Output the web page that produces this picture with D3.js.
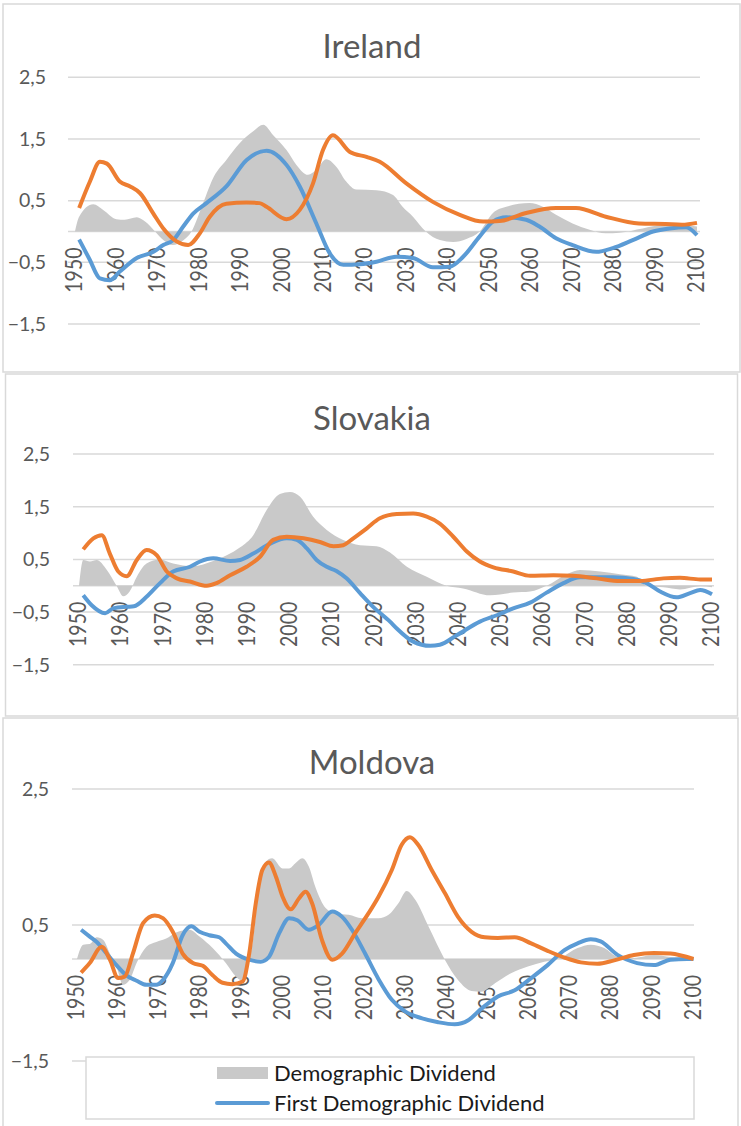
<!DOCTYPE html>
<html lang="en">
<head>
  <meta charset="UTF-8">
  <script src="https://d3js.org/d3.v7.min.js"></script>
  <title>Demographic Dividend</title>
  <style>
    body { margin: 0; background: #fff; }
    svg { display: block; font-family: Lato, "Open Sans", sans-serif; }
  </style>
</head>
<body>
<div id="chart"></div>
<script>

// values, [year, value]
var irelandDemo = [[1950,0],[1951,0.24],[1954.4,0.44],[1956.8,0.35],[1960,0.2],[1962,0.19],[1964.9,0.23],[1966.9,0.16],[1969.3,0],[1971.5,-0.15],[1973.6,-0.22],[1976,-0.15],[1978.1,0],[1980.9,0.46],[1983.5,0.89],[1986.5,1.16],[1989.7,1.43],[1992.9,1.62],[1995.4,1.73],[1997.8,1.56],[2001,1.32],[2003.4,1.08],[2006.2,0.92],[2008.2,1.0],[2010.6,1.17],[2013,1.05],[2015.4,0.81],[2017.8,0.68],[2022.7,0.67],[2026.7,0.59],[2029,0.40],[2031.5,0.24],[2034.6,0],[2038,-0.14],[2041.2,-0.17],[2044.4,-0.12],[2047.6,0],[2050.8,0.30],[2054,0.40],[2059.6,0.46],[2062.8,0.40],[2066,0.27],[2070,0.13],[2074.1,0.03],[2078,-0.03],[2081.3,-0.02],[2086.9,0.05],[2091.8,0.1],[2097.4,0.1],[2100,0.08]];
var irelandFirst = [[1951,-0.13],[1953.5,-0.45],[1956,-0.76],[1958.4,-0.79],[1960.8,-0.65],[1964.9,-0.43],[1968.9,-0.33],[1971.3,-0.22],[1973.7,-0.14],[1976.1,0.08],[1978.5,0.29],[1981.7,0.46],[1986.5,0.73],[1991.4,1.16],[1996.2,1.31],[2001,1.08],[2004.2,0.73],[2008.2,0.13],[2011.4,-0.35],[2014.7,-0.54],[2018.7,-0.53],[2022.7,-0.49],[2027.5,-0.41],[2031.5,-0.43],[2036.3,-0.58],[2040.4,-0.57],[2043.6,-0.41],[2047.6,-0.08],[2050.8,0.16],[2054,0.23],[2058.8,0.19],[2062,0.08],[2066,-0.11],[2070,-0.22],[2075.7,-0.33],[2079.7,-0.27],[2084.5,-0.14],[2089.4,0],[2093.4,0.05],[2097.4,0.07],[2100,-0.06]];
var irelandSecond = [[1951,0.38],[1953.6,0.81],[1956,1.13],[1957.7,1.1],[1960.8,0.81],[1963.3,0.73],[1965.7,0.62],[1968.9,0.29],[1971.3,0.05],[1974.5,-0.16],[1977.3,-0.22],[1980.1,-0.03],[1982.5,0.24],[1986.5,0.45],[1991.4,0.47],[1994.5,0.46],[1996.2,0.40],[2001,0.2],[2004.2,0.35],[2007.4,0.78],[2009.8,1.32],[2012.2,1.56],[2016.3,1.29],[2020.3,1.21],[2023.5,1.13],[2029.9,0.78],[2036.3,0.48],[2042.8,0.27],[2048.4,0.16],[2052.4,0.17],[2058.8,0.3],[2066,0.38],[2070.8,0.38],[2078,0.24],[2086,0.13],[2092.4,0.12],[2096.4,0.11],[2100,0.14]];

var slovakiaDemo = [[1950,0],[1951,0.49],[1952.6,0.46],[1954.2,0.49],[1956.6,0.30],[1958.9,0],[1960.5,-0.2],[1962,-0.11],[1963.7,0.17],[1966,0.42],[1969.2,0.5],[1972.3,0.42],[1977,0.37],[1981.8,0.47],[1985,0.58],[1988.2,0.73],[1991.3,0.96],[1994.5,1.44],[1997.6,1.74],[2000,1.78],[2002.4,1.69],[2005.5,1.31],[2008.7,1.06],[2012.6,0.87],[2016.6,0.77],[2020.5,0.75],[2023.7,0.63],[2027.7,0.36],[2032.4,0.17],[2037.1,0],[2041,-0.05],[2047.4,-0.18],[2052.9,-0.13],[2056.9,-0.11],[2060.8,0],[2065.6,0.22],[2068.7,0.3],[2073.5,0.27],[2078.2,0.22],[2082.2,0.17],[2084.5,0],[2088.5,-0.03],[2092.4,-0.07],[2097.2,-0.01],[2100,-0.03]];
var slovakiaFirst = [[1951,-0.18],[1953,-0.37],[1956.2,-0.52],[1958.1,-0.43],[1961.3,-0.4],[1963,-0.39],[1966,-0.21],[1969.2,0.05],[1972.3,0.27],[1976.3,0.36],[1978.7,0.46],[1981.8,0.52],[1985.8,0.47],[1988.2,0.49],[1991.3,0.61],[1995.3,0.8],[1999.2,0.9],[2001.6,0.87],[2004,0.71],[2006.3,0.49],[2008.7,0.36],[2011,0.28],[2013.4,0.14],[2016.6,-0.14],[2019.7,-0.4],[2023.7,-0.68],[2025.3,-0.81],[2029.2,-1.06],[2033.2,-1.14],[2035.5,-1.12],[2039.5,-0.94],[2045,-0.68],[2049,-0.56],[2052.9,-0.43],[2056.9,-0.32],[2060.8,-0.13],[2064.8,0.05],[2068.7,0.16],[2076.6,0.16],[2081.4,0.13],[2084.5,0.05],[2087.7,-0.11],[2091.6,-0.22],[2094.8,-0.14],[2097.2,-0.08],[2100,-0.16]];
var slovakiaSecond = [[1951,0.69],[1953.4,0.9],[1955.4,0.96],[1957.3,0.61],[1959.3,0.27],[1961.3,0.18],[1963.7,0.49],[1966,0.68],[1968.4,0.58],[1970.8,0.27],[1973.2,0.14],[1976.3,0.08],[1980.3,0],[1982.6,0.05],[1985.8,0.2],[1989.7,0.36],[1992.9,0.55],[1996,0.87],[1999.2,0.93],[2003.2,0.9],[2007.1,0.83],[2010.3,0.75],[2012.6,0.77],[2015,0.9],[2018.2,1.09],[2021.3,1.28],[2025.3,1.36],[2029.2,1.37],[2032.4,1.31],[2035.5,1.18],[2038.7,0.93],[2041.9,0.65],[2045,0.46],[2048.2,0.35],[2052.9,0.27],[2056.9,0.19],[2062.4,0.2],[2067.1,0.19],[2072.7,0.14],[2078.2,0.09],[2082.9,0.09],[2088.5,0.14],[2092.4,0.15],[2097.2,0.12],[2100,0.12]];

var moldovaDemo = [[1950,0],[1951.5,0.21],[1953.1,0.22],[1954.8,0.32],[1956.4,0.28],[1958,0.08],[1959.6,-0.11],[1961.2,-0.38],[1962.8,-0.31],[1964.5,-0.06],[1966.9,0.18],[1969.3,0.25],[1971.7,0.3],[1974.1,0.39],[1977.4,0.43],[1979.8,0.33],[1983,0.16],[1986.2,-0.06],[1988.7,-0.26],[1989.9,-0.31],[1991.1,-0.16],[1992.7,0.23],[1994.3,1.06],[1995.9,1.43],[1997.5,1.48],[2000,1.33],[2001.6,1.33],[2003.2,1.41],[2004.8,1.48],[2006.4,1.36],[2008,1.06],[2010.5,0.75],[2012.9,0.67],[2016.1,0.65],[2019.3,0.6],[2023.4,0.6],[2025.8,0.65],[2028.2,0.82],[2030.2,1.0],[2032.3,0.87],[2035.5,0.48],[2039.5,-0.01],[2042.7,-0.31],[2046,-0.47],[2048.4,-0.48],[2051.6,-0.36],[2055.6,-0.21],[2059.7,-0.11],[2063.7,-0.04],[2067.7,0.02],[2071.8,0.16],[2075,0.21],[2078.3,0.16],[2081.5,0.03],[2084.7,0.01],[2090.4,0.06],[2094.4,0.03],[2098.4,0.01],[2100,0]];
var moldovaFirst = [[1951,0.43],[1953.1,0.33],[1954.8,0.25],[1957.2,0.08],[1959.6,-0.09],[1962,-0.24],[1964.5,-0.32],[1966.9,-0.38],[1969.3,-0.38],[1970.9,-0.31],[1973.3,-0.06],[1975.7,0.35],[1977.8,0.48],[1979.8,0.4],[1982.2,0.35],[1984.6,0.32],[1986.2,0.23],[1988.7,0.08],[1991.9,-0.01],[1994.7,-0.04],[1996.7,0.03],[1999.2,0.38],[2001.6,0.6],[2003.6,0.57],[2006.4,0.43],[2008.8,0.5],[2012.1,0.7],[2014.5,0.62],[2016.9,0.43],[2020.1,0.08],[2023.4,-0.3],[2026.6,-0.6],[2029.8,-0.77],[2033.8,-0.87],[2037.9,-0.93],[2041.9,-0.96],[2045.2,-0.9],[2048.4,-0.73],[2052.4,-0.55],[2056.5,-0.46],[2060.5,-0.28],[2064.5,-0.09],[2068.6,0.13],[2071.8,0.23],[2075,0.29],[2077.4,0.26],[2081.5,0.06],[2086.3,-0.06],[2090.4,-0.09],[2094.4,-0.01],[2098.4,0],[2100,0]];
var moldovaSecond = [[1951,-0.2],[1953.1,-0.06],[1956,0.18],[1958,-0.01],[1960,-0.28],[1961.6,-0.26],[1963.6,0.08],[1966.1,0.53],[1968.9,0.64],[1970.9,0.6],[1973.3,0.4],[1975.7,0.08],[1978.2,-0.06],[1980.6,-0.1],[1983,-0.24],[1985.4,-0.35],[1987.8,-0.37],[1990.3,-0.33],[1991.9,0.08],[1993.5,0.82],[1995.1,1.31],[1996.7,1.42],[1998.4,1.21],[2000,0.92],[2002,0.73],[2004,0.89],[2005.6,0.99],[2007.2,0.82],[2009.6,0.28],[2012.1,-0.01],[2014.5,0.08],[2017.7,0.38],[2020.9,0.67],[2023.4,0.92],[2026.6,1.31],[2029,1.68],[2031,1.79],[2033,1.68],[2036.3,1.31],[2039.5,0.97],[2042.7,0.62],[2046,0.4],[2049.2,0.32],[2052.4,0.31],[2056.5,0.32],[2060.5,0.23],[2064.5,0.12],[2068.6,0.02],[2072.6,-0.05],[2076.6,-0.07],[2080.7,-0.02],[2085.5,0.06],[2090.4,0.09],[2094.4,0.08],[2100,0]];

var yearTicks = d3.range(1950, 2101, 10);
var ticksFull = [2.5, 1.5, 0.5, -0.5, -1.5];
var ticksSparse = [2.5, 0.5, -1.5];
var legendLabels = ["Demographic Dividend", "First Demographic Dividend"];

var grey = "#595959", gridColor = "#d9d9d9";
var areaColor = "#c9c9c9", blue = "#5b9bd5", orange = "#ed7d31";

var svg = d3.select("#chart")
  .append("svg")
    .attr("width", 741)
    .attr("height", 1126);

var panels = [
  {title: "Ireland", box: [3, 4, 737, 368], titleY: 58, xr: [75, 697], yr: [324, 77.3], grid: [68, 700], labX: 46,
   ticks: ticksFull, demo: irelandDemo, first: irelandFirst, second: irelandSecond},
  {title: "Slovakia", box: [5.5, 374, 732, 342], titleY: 430, xr: [79, 712], yr: [664.8, 454], grid: [73, 714], labX: 50,
   ticks: ticksFull, demo: slovakiaDemo, first: slovakiaFirst, second: slovakiaSecond},
  {title: "Moldova", box: [3, 718, 735, 430], titleY: 774, xr: [77, 693.5], yr: [1061, 789], grid: [72, 694], labX: 49,
   ticks: ticksSparse, demo: moldovaDemo, first: moldovaFirst, second: moldovaSecond}
];

panels.forEach(function(p) {
  var g = svg.append("g");

  g.append("rect")
    .attr("x", p.box[0]).attr("y", p.box[1])
    .attr("width", p.box[2]).attr("height", p.box[3])
    .attr("fill", "#fff")
    .attr("stroke", gridColor)
    .attr("stroke-width", 1.5);

  g.append("text")
    .attr("x", 372).attr("y", p.titleY)
    .attr("text-anchor", "middle")
    .attr("font-size", 33)
    .attr("fill", grey)
    .text(p.title);

  var x = d3.scaleLinear().domain([1950, 2100]).range(p.xr);
  var y = d3.scaleLinear().domain([-1.5, 2.5]).range(p.yr);

  // gridlines + zero line
  g.selectAll(".grid")
    .data(p.ticks.concat([0]))
    .enter().append("line")
      .attr("x1", p.grid[0]).attr("x2", p.grid[1])
      .attr("y1", function(d) { return y(d); })
      .attr("y2", function(d) { return y(d); })
      .attr("stroke", gridColor)
      .attr("stroke-width", 1.5);

  g.selectAll(".ylab")
    .data(p.ticks)
    .enter().append("text")
      .attr("x", p.labX)
      .attr("y", function(d) { return y(d); })
      .attr("dy", "0.35em")
      .attr("text-anchor", "end")
      .attr("font-size", 19.5)
      .attr("fill", grey)
      .text(function(d) { return d3.format(".1f")(d).replace(".", ","); });

  // year labels are a bit taller in the original, hence the stretch
  g.selectAll(".xlab")
    .data(yearTicks)
    .enter().append("text")
      .attr("transform", function(d) { return "translate(" + (x(d) - 1) + "," + (y(0) + 16) + ")rotate(-90)scale(1,1.2)"; })
      .attr("text-anchor", "end")
      .attr("dy", "0.35em")
      .attr("font-size", 19.5)
      .attr("fill", grey)
      .text(function(d) { return d; });

  var area = d3.area()
    .x(function(d) { return x(d[0]); })
    .y0(y(0))
    .y1(function(d) { return y(d[1]); })
    .curve(d3.curveMonotoneX);

  var line = d3.line()
    .x(function(d) { return x(d[0]); })
    .y(function(d) { return y(d[1]); })
    .curve(d3.curveMonotoneX);

  g.append("path").attr("d", area(p.demo)).attr("fill", areaColor);

  g.append("path").attr("d", line(p.first))
    .attr("fill", "none").attr("stroke", blue)
    .attr("stroke-width", 4).attr("stroke-linejoin", "round");

  g.append("path").attr("d", line(p.second))
    .attr("fill", "none").attr("stroke", orange)
    .attr("stroke-width", 4).attr("stroke-linejoin", "round");
});

// legend (only two entries visible in the original)
var lg = svg.append("g");
lg.append("rect")
  .attr("x", 86).attr("y", 1057).attr("width", 608).attr("height", 62)
  .attr("fill", "#fff").attr("stroke", gridColor).attr("stroke-width", 1.5);

lg.append("rect")
  .attr("x", 217).attr("y", 1067).attr("width", 51).attr("height", 12)
  .attr("fill", areaColor);
lg.append("line")
  .attr("x1", 217).attr("x2", 268).attr("y1", 1103).attr("y2", 1103)
  .attr("stroke", blue).attr("stroke-width", 4).attr("stroke-linecap", "round");

lg.selectAll(".ltxt")
  .data(legendLabels)
  .enter().append("text")
    .attr("x", 274)
    .attr("y", function(d, i) { return 1081 + i * 30; })
    .attr("font-size", 22)
    .attr("fill", "#1a1a1a")
    .text(function(d) { return d; });

</script>
</body>
</html>
